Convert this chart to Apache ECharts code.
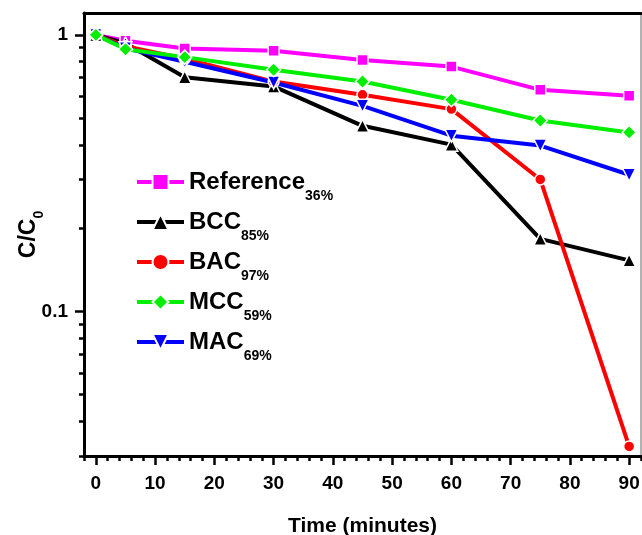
<!DOCTYPE html>
<html lang="en">
<head>
<meta charset="UTF-8">
<title>C/C0 vs time</title>
<script src="https://cdn.jsdelivr.net/npm/echarts@6/dist/echarts.min.js"></script>
<style>
  html, body { margin: 0; padding: 0; background: #fff; }
  #chart { width: 642px; height: 535px; }
</style>
</head>
<body>
<div id="chart"></div>
<script>
// data (C/C0, log scale)
var times = [0, 5, 15, 30, 45, 60, 75, 90];
var reference = [1.0, 0.952, 0.893, 0.876, 0.812, 0.768, 0.633, 0.603];
var bcc = [1.0, 0.932, 0.703, 0.651, 0.469, 0.401, 0.183, 0.153];
var bac = [1.0, 0.91, 0.82, 0.678, 0.607, 0.539, 0.300, 0.0325];
var mcc = [1.0, 0.888, 0.831, 0.748, 0.678, 0.583, 0.490, 0.444];
var mac = [1.0, 0.895, 0.80, 0.673, 0.554, 0.432, 0.398, 0.312];

var seriesNames = ['Reference', 'BCC', 'BAC', 'MCC', 'MAC'];
var removal = ['36%', '85%', '97%', '59%', '69%'];
var xTickLabels = [0, 10, 20, 30, 40, 50, 60, 70, 80, 90];
var yTickLabels = [0.1, 1];

var font = "'Liberation Sans', Arial, sans-serif";

// minor tick positions
var xMinor = [];
for (var t = -2; t <= 92; t += 2) if (t % 10 !== 0) xMinor.push(t);
var yMinor = [];
for (var k = 3; k <= 9; k++) yMinor.push(k / 100);
for (var k = 2; k <= 9; k++) yMinor.push(k / 10);

function pairs(vals) {
    return times.map(function (t, i) { return [t, vals[i]]; });
}

var styles = {
    'Reference': { color: '#ff00ff', symbol: 'rect', size: 11, rot: 0, vals: reference },
    'BCC': { color: '#000000', symbol: 'triangle', size: 13, rot: 0, vals: bcc },
    'BAC': { color: '#ff0000', symbol: 'circle', size: 11, rot: 0, vals: bac },
    'MCC': { color: '#00ee00', symbol: 'diamond', size: 14, rot: 0, vals: mcc },
    'MAC': { color: '#0000ff', symbol: 'triangle', size: 13, rot: 180, vals: mac }
};

// drawing order: green ends up on top
var drawOrder = ['Reference', 'BCC', 'BAC', 'MAC', 'MCC'];
var series = drawOrder.map(function (name) {
    var s = styles[name];
    return {
        name: name,
        type: 'line',
        data: pairs(s.vals),
        xAxisIndex: 0,
        yAxisIndex: 0,
        symbol: s.symbol,
        symbolSize: s.size,
        symbolRotate: s.rot,
        color: s.color,
        lineStyle: { width: 4, color: s.color },
        itemStyle: { color: s.color, borderColor: '#fff', borderWidth: 1.5 },
        animation: false
    };
});

var legends = seriesNames.map(function (name, i) {
    return {
        data: [name],
        left: 130,
        top: 165 + i * 40,
        itemWidth: 47,
        itemHeight: 20,
        selectedMode: false,
        lineStyle: { width: 4 },
        formatter: function (n) {
            return '{a|' + n + '}{b|' + removal[seriesNames.indexOf(n)] + '}';
        },
        textStyle: {
            rich: {
                a: { fontFamily: font, fontWeight: 'bold', fontSize: 24, color: '#000' },
                b: { fontFamily: font, fontWeight: 'bold', fontSize: 14, color: '#000', padding: [28, 0, 0, 0] }
            }
        }
    };
});

var chart = echarts.init(document.getElementById('chart'), null, { renderer: 'canvas' });
chart.setOption({
    backgroundColor: '#fff',
    animation: false,
    grid: { left: 84, right: 1, top: 13, bottom: 79, containLabel: false, outerBoundsMode: 'none' },
    legend: legends,
    xAxis: [{
        type: 'value', min: -2, max: 92, position: 'bottom',
        name: 'Time (minutes)', nameLocation: 'middle', nameGap: 60,
        nameTextStyle: { fontFamily: font, fontWeight: 'bold', fontSize: 21, color: '#000' },
        axisLine: { onZero: false, lineStyle: { color: '#000', width: 3 } },
        axisTick: { customValues: xTickLabels, length: 9, lineStyle: { color: '#000', width: 2.5 } },
        axisLabel: { customValues: xTickLabels, margin: 18, fontFamily: font, fontWeight: 'bold', fontSize: 19, color: '#000' },
        splitLine: { show: false }
    }, {
        type: 'value', min: -2, max: 92, position: 'bottom',
        axisLine: { show: false, onZero: false },
        axisTick: { customValues: xMinor, length: 5, lineStyle: { color: '#000', width: 2.5 } },
        axisLabel: { show: false },
        splitLine: { show: false }
    }, {
        type: 'value', min: -2, max: 92, position: 'top',
        axisLine: { onZero: false, lineStyle: { color: '#000', width: 3 } },
        axisTick: { show: false },
        axisLabel: { show: false },
        splitLine: { show: false }
    }],
    yAxis: [{
        type: 'log', min: 0.03, max: 1.2, position: 'left',
        name: '{a|C/C}{b|0}', nameLocation: 'middle', nameRotate: 90, nameGap: 38,
        nameMoveOverlap: false,
        nameTextStyle: {
            rich: {
                a: { fontFamily: font, fontWeight: 'bold', fontSize: 23, color: '#000' },
                b: { fontFamily: font, fontWeight: 'bold', fontSize: 14, color: '#000', padding: [20, 0, 0, 0] }
            }
        },
        axisLine: { onZero: false, lineStyle: { color: '#000', width: 3 } },
        axisTick: { customValues: yTickLabels, length: 9, lineStyle: { color: '#000', width: 2.5 } },
        axisLabel: {
            customValues: yTickLabels, margin: 16,
            fontFamily: font, fontWeight: 'bold', fontSize: 19, color: '#000',
            formatter: function (v) { return String(v); }
        },
        splitLine: { show: false }
    }, {
        type: 'log', min: 0.03, max: 1.2, position: 'left',
        axisLine: { show: false, onZero: false },
        axisTick: { customValues: yMinor, length: 5, lineStyle: { color: '#000', width: 2.5 } },
        axisLabel: { show: false },
        splitLine: { show: false }
    }, {
        type: 'log', min: 0.03, max: 1.2, position: 'right',
        axisLine: { onZero: false, lineStyle: { color: '#999', width: 1.5 } },
        axisTick: { show: false },
        axisLabel: { show: false },
        splitLine: { show: false }
    }],
    series: series
});
</script>
</body>
</html>
